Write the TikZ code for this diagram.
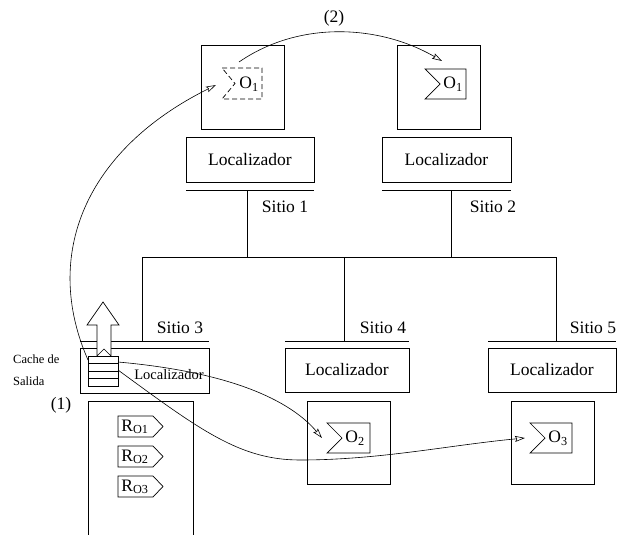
\documentclass[tikz,border=0pt]{standalone}
\usepackage{fontspec}
\setmainfont{Liberation Serif}
\usetikzlibrary{arrows.meta}
\tikzset{
  box/.style={draw, line width=0.7pt, inner sep=0pt, fill=white},
  lbl/.style={inner sep=0pt, font=\fontsize{17.5}{20}\selectfont},
  small/.style={inner sep=0pt, font=\fontsize{14.5}{17}\selectfont},
  tiny/.style={inner sep=0pt, font=\fontsize{12.5}{15}\selectfont},
  ln/.style={line width=0.7pt},
  arr/.style={line width=0.6pt, -{Stealth[open,length=10pt,width=6pt,inset=1.5pt]}},
}
\newcommand{\otag}[6]{% x1 y1 x2 y2 xn style
  \draw[ln,#6] (#1,#2) -- (#3,#2) -- (#3,#4) -- (#1,#4) -- (#5,{(#2+#4)/2}) -- cycle;}
\newcommand{\rtag}[4]{% x1 y1 x2 y2
  \draw[ln] (#1,#2) -- (#3,#2) -- ({#3+10},{(#2+#4)/2}) -- (#3,#4) -- (#1,#4) -- cycle;}
\begin{document}
\begin{tikzpicture}[x=1pt,y=-1pt]
\useasboundingbox (0,0) rectangle (621,535);
% top object boxes
\node[box, minimum width=83pt, minimum height=84pt] (ob1) at (242.5,87) {};
\node[box, minimum width=83pt, minimum height=84pt] (ob2) at (438.5,87) {};
% top localizadores
\node[box, minimum width=128pt, minimum height=45pt, lbl] (loc1) at (250,159.5) {Localizador};
\node[box, minimum width=129pt, minimum height=45pt, lbl] (loc2) at (446.5,159.5) {Localizador};
\draw[ln] (186,190) -- (314,190);
\draw[ln] (382,190) -- (511,190);
\coordinate (s1) at (247,190);
\coordinate (s2) at (451,190);
\coordinate (b1) at (247,257);
\coordinate (b2) at (451,257);
\draw[ln] (s1) -- (b1);
\draw[ln] (s2) -- (b2);
\node[lbl] (t1) at (285,207) {Sitio 1};
\node[lbl] (t2) at (493,207) {Sitio 2};
% bus
\coordinate (bl) at (142,257);
\coordinate (bm) at (344,257);
\coordinate (br) at (556,257);
\draw[ln] (bl) -- (br);
\coordinate (d3) at (142,341);
\coordinate (d4) at (344,341);
\coordinate (d5) at (556,341);
\draw[ln] (bl) -- (d3);
\draw[ln] (bm) -- (d4);
\draw[ln] (br) -- (d5);
% bottom sites
\draw[ln] (80,341) -- (209,341);
\draw[ln] (285,341) -- (409,341);
\draw[ln] (488,341) -- (616,341);
\node[lbl] (t3) at (180,328) {Sitio 3};
\node[lbl] (t4) at (383,328) {Sitio 4};
\node[lbl] (t5) at (593,328) {Sitio 5};
\node[box, minimum width=129pt, minimum height=45pt] (loc3) at (144.5,370.5) {};
\node[small] (loc3t) at (169,375) {Localizador};
\node[box, minimum width=124pt, minimum height=44pt, lbl] (loc4) at (347,370) {Localizador};
\node[box, minimum width=128pt, minimum height=44pt, lbl] (loc5) at (552,370) {Localizador};
% site 3 object box (open at bottom)
\draw[ln] (88,535) -- (88,401) -- (193,401) -- (193,535);
% site 4/5 object boxes
\node[box, minimum width=83pt, minimum height=83pt] (ob4) at (348.5,442.5) {};
\node[box, minimum width=83pt, minimum height=83pt] (ob5) at (552.5,442.5) {};
% O tags
\otag{222}{68}{262}{99}{235}{dashed, dash pattern=on 5pt off 3pt}
\node[lbl] (o1a) at (249,84) {O\textsubscript{1}};
\otag{425}{69}{466}{99}{440}{}
\node[lbl] (o1b) at (453,84) {O\textsubscript{1}};
\otag{327}{423}{370}{453}{342}{}
\node[lbl] (o2) at (355,438) {O\textsubscript{2}};
\otag{530}{423}{572}{453}{545}{}
\node[lbl] (o3) at (558,438) {O\textsubscript{3}};
% R tags
\rtag{118}{416}{153}{437}
\node[lbl] (r1) at (135,427) {R\textsubscript{O1}};
\rtag{118}{446}{153}{467}
\node[lbl] (r2) at (135,457) {R\textsubscript{O2}};
\rtag{118}{476}{153}{497}
\node[lbl] (r3) at (135,487) {R\textsubscript{O3}};
% big up arrow
\draw[ln, fill=white] (103,302) -- (119,325) -- (111,325) -- (111,356) -- (104,349) -- (97,356) -- (97,325) -- (87,325) -- cycle;
% cache stack
\node[box, minimum width=30pt, minimum height=30pt] (cache) at (103,371) {};
\draw[ln] (88,363.5) -- (118,363.5);
\draw[ln] (88,371) -- (118,371);
\draw[ln] (88,378.5) -- (118,378.5);
\node[tiny, anchor=west] (c1) at (13,359) {Cache de};
\node[tiny, anchor=west] (c2) at (13,381) {Salida};
\node[lbl] (n1) at (61,405) {(1)};
\node[lbl] (n2) at (334,18) {(2)};
% arrows
\coordinate (a1s) at (88,360);
\coordinate (a1e) at (216,85);
\draw[arr] (a1s) .. controls (42,255) and (85,150) .. (a1e);
\coordinate (a2s) at (239,62);
\coordinate (a2e) at (442,61);
\draw[arr] (a2s) .. controls (300,20) and (380,25) .. (a2e);
\coordinate (a3s) at (118,362);
\coordinate (a3e) at (322,438);
\draw[arr] (a3s) .. controls (230,372) and (290,400) .. (a3e);
\coordinate (a4s) at (118,370);
\coordinate (a4m) at (300,460);
\coordinate (a4e) at (525,438);
\draw[arr] (a4s) .. controls (200,430) and (240,460) .. (a4m) .. controls (380,460) and (450,445) .. (a4e);
\end{tikzpicture}
\end{document}
